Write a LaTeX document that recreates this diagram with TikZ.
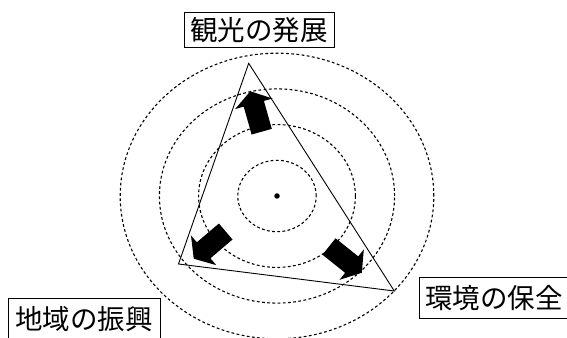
\documentclass[tikz,border=0pt]{standalone}
\usepackage{fontspec}
\usepackage{tikz}
\newfontfamily\jp{Noto Sans CJK JP}
\tikzstyle{box} = [rectangle, draw=black, line width=1pt, inner sep=0pt, text centered, font=\jp\fontsize{27.5}{30}\selectfont]
\tikzstyle{ring} = [dash pattern=on 2.8pt off 2.4pt, line width=1.1pt]
\tikzstyle{side} = [line width=0.9pt]
\tikzstyle{blockarrow} = [fill=black]
\tikzstyle{dot} = [circle, fill=black, inner sep=0pt, minimum size=5.5pt]

\begin{document}
\begin{tikzpicture}[x=1pt, y=1pt]
          \useasboundingbox (0,0) rectangle (567,337);
          \node (ctr) [dot] at (277,141) {};
          \node (kanko) [box, minimum width=150pt, minimum height=35.5pt, node distance=166pt, above of=ctr, xshift=-18pt] {観光の発展};
          \node (chiiki) [box, minimum width=152pt, minimum height=40pt, node distance=123pt, below of=ctr, xshift=-193pt] {地域の振興};
          \node (kankyo) [box, minimum width=150pt, minimum height=40.5pt, node distance=102pt, below of=ctr, xshift=217pt] {環境の保全};
          \draw [ring] (ctr) ellipse (39.2 and 35.7);
          \draw [ring] (ctr) ellipse (78.4 and 71.4);
          \draw [ring] (ctr) ellipse (117.6 and 107.1);
          \draw [ring] (ctr) ellipse (156.8 and 142.8);
          \coordinate (apex) at (248.7,273.7);
          \coordinate (lcorner) at (178.5,73);
          \coordinate (rcorner) at (394.3,46);
          \draw [side] (apex) -- (lcorner) -- (rcorner) -- cycle;
          \fill [blockarrow, shift={(261.7,205.3)}, rotate=105.8] (0,-10.5) -- (29,-10.5) -- (29,-19.5) -- (42,0) -- (29,19.5) -- (29,10.5) -- (0,10.5) -- cycle;
          \fill [blockarrow, shift={(225.7,105.5)}, rotate=220.4] (0,-10.5) -- (29,-10.5) -- (29,-19.5) -- (42,0) -- (29,19.5) -- (29,10.5) -- (0,10.5) -- cycle;
          \fill [blockarrow, shift={(329,90.5)}, rotate=-38.6] (0,-10.5) -- (29,-10.5) -- (29,-19.5) -- (42,0) -- (29,19.5) -- (29,10.5) -- (0,10.5) -- cycle;
        \end{tikzpicture}
\end{document}
